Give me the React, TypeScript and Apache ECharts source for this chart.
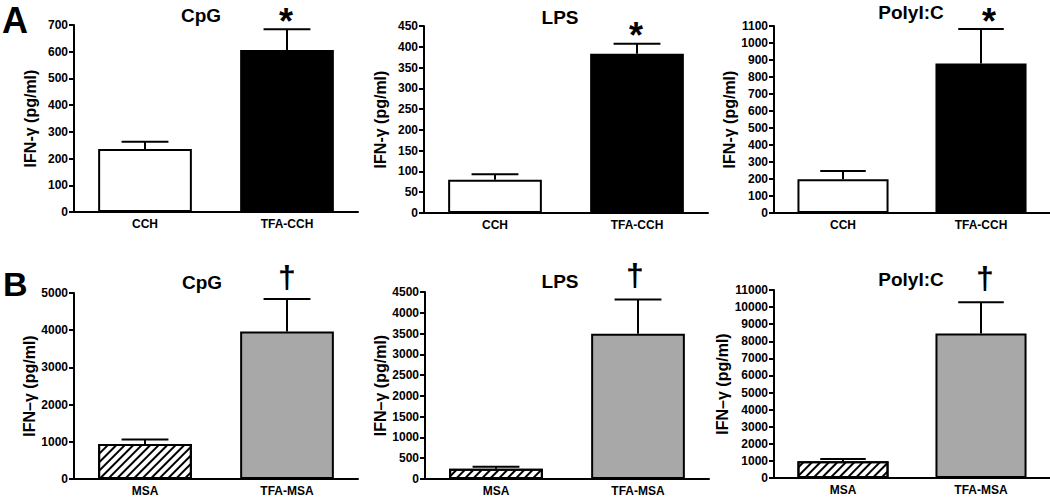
import React, { useEffect, useRef } from "react";
import * as echarts from "echarts";

// ---- data ----
const groupsA = ["CCH", "TFA-CCH"];
const groupsB = ["MSA", "TFA-MSA"];
const stimuli = ["CpG", "LPS", "PolyI:C"];

const meanA_CpG = [236, 606];
const semA_CpG = [27, 78];
const meanA_LPS = [80, 383];
const semA_LPS = [13, 24];
const meanA_Poly = [198, 879];
const semA_Poly = [49, 203];

const meanB_CpG = [941, 3968];
const semB_CpG = [124, 871];
const meanB_LPS = [248, 3497];
const semB_LPS = [48, 825];
const meanB_Poly = [979, 8462];
const semB_Poly = [134, 1818];

const yMaxA = [700, 450, 1100];
const yStepA = [100, 50, 100];
const yMaxB = [5000, 4500, 11000];
const yStepB = [1000, 500, 1000];

const markA = "*";
const markB = "\u2020";
const yNameA = "IFN-\u03b3 (pg/ml)";
const yNameB = "IFN\u2013\u03b3 (pg/ml)";

// ---- layout ----
const FONT = "Liberation Sans, Arial, sans-serif";
const grids = [
  { left: 74, top: 25, width: 284, height: 187 },
  { left: 424, top: 26, width: 284, height: 187 },
  { left: 774, top: 26, width: 280, height: 187 },
  { left: 74, top: 293, width: 284, height: 186 },
  { left: 425, top: 292, width: 284, height: 187 },
  { left: 774, top: 290, width: 280, height: 188 },
];
const titlePos = [
  [201, 15], [560, 17], [911, 12],
  [202, 282], [560, 281], [911, 279],
];
const markPos = [
  [286, 21], [636, 35], [989, 21],
  [287, 277], [635, 275], [985, 278],
];

type Panel = {
  cats: string[];
  mean: number[];
  sem: number[];
  max: number;
  step: number;
  yName: string;
  colors: any[];
  mark: string;
};

const hatch = {
  symbol: "rect",
  symbolSize: 1,
  dashArrayX: [1, 0],
  dashArrayY: [1.6, 3.4],
  rotation: -Math.PI / 4,
  color: "#000",
};

const panels: Panel[] = [
  { cats: groupsA, mean: meanA_CpG, sem: semA_CpG, max: yMaxA[0], step: yStepA[0], yName: yNameA, colors: ["#fff", "#000"], mark: markA },
  { cats: groupsA, mean: meanA_LPS, sem: semA_LPS, max: yMaxA[1], step: yStepA[1], yName: yNameA, colors: ["#fff", "#000"], mark: markA },
  { cats: groupsA, mean: meanA_Poly, sem: semA_Poly, max: yMaxA[2], step: yStepA[2], yName: yNameA, colors: ["#fff", "#000"], mark: markA },
  { cats: groupsB, mean: meanB_CpG, sem: semB_CpG, max: yMaxB[0], step: yStepB[0], yName: yNameB, colors: ["hatch", "#a8a8a8"], mark: markB },
  { cats: groupsB, mean: meanB_LPS, sem: semB_LPS, max: yMaxB[1], step: yStepB[1], yName: yNameB, colors: ["hatch", "#a8a8a8"], mark: markB },
  { cats: groupsB, mean: meanB_Poly, sem: semB_Poly, max: yMaxB[2], step: yStepB[2], yName: yNameB, colors: ["hatch", "#a8a8a8"], mark: markB },
];

function buildOption() {
  const grid: any[] = [];
  const xAxis: any[] = [];
  const yAxis: any[] = [];
  const series: any[] = [];
  const graphic: any[] = [];

  panels.forEach((p, i) => {
    grid.push({ ...grids[i], containLabel: false });
    xAxis.push({
      type: "category",
      gridIndex: i,
      data: p.cats,
      axisLine: { lineStyle: { color: "#000", width: 2 } },
      axisTick: { alignWithLabel: true, length: 5, lineStyle: { color: "#000", width: 2 } },
      axisLabel: { color: "#000", fontFamily: FONT, fontWeight: "bold", fontSize: 12, margin: 6 },
    });
    yAxis.push({
      type: "value",
      gridIndex: i,
      min: 0,
      max: p.max,
      interval: p.step,
      splitLine: { show: false },
      axisLine: { show: true, lineStyle: { color: "#000", width: 2 } },
      axisTick: { show: true, length: 5, lineStyle: { color: "#000", width: 2 } },
      axisLabel: {
        color: "#000",
        fontFamily: FONT,
        fontWeight: "bold",
        fontSize: 12,
        margin: 6,
        formatter: (v: number) => String(v),
      },
      name: p.yName,
      nameLocation: "middle",
      nameGap: 36,
      nameTextStyle: { color: "#000", fontFamily: FONT, fontWeight: "bold", fontSize: 16 },
    });
    series.push({
      type: "bar",
      xAxisIndex: i,
      yAxisIndex: i,
      barWidth: "66%",
      data: p.mean.map((v, k) => {
        const c = p.colors[k];
        const itemStyle: any = { borderColor: "#000", borderWidth: 2 };
        if (c === "hatch") {
          itemStyle.color = "#fff";
          itemStyle.decal = hatch;
        } else {
          itemStyle.color = c;
        }
        return { value: v, itemStyle };
      }),
    });
    series.push({
      type: "custom",
      xAxisIndex: i,
      yAxisIndex: i,
      z: 5,
      encode: { x: 0, y: [1, 2] },
      data: p.mean.map((v, k) => [k, v, v + p.sem[k]]),
      renderItem: (params: any, api: any) => {
        const x = api.value(0);
        const p0 = api.coord([x, api.value(1)]);
        const p1 = api.coord([x, api.value(2)]);
        const half = (api.size([1, 0])[0] * 0.66) / 4;
        return {
          type: "group",
          children: [
            { type: "line", shape: { x1: p0[0], y1: p0[1], x2: p1[0], y2: p1[1] }, style: { stroke: "#000", lineWidth: 2 } },
            { type: "line", shape: { x1: p1[0] - half, y1: p1[1], x2: p1[0] + half, y2: p1[1] }, style: { stroke: "#000", lineWidth: 2 } },
          ],
        };
      },
    });
    graphic.push({
      type: "text",
      x: titlePos[i][0],
      y: titlePos[i][1],
      style: { text: stimuli[i % 3], fill: "#000", font: `bold 19px ${FONT}`, align: "center", verticalAlign: "middle" },
    });
    graphic.push({
      type: "text",
      x: markPos[i][0],
      y: markPos[i][1],
      style: {
        text: p.mark,
        fill: "#000",
        font: p.mark === "*" ? `bold 36px ${FONT}` : `bold 32px ${FONT}`,
        align: "center",
        verticalAlign: "middle",
      },
    });
  });

  graphic.push({ type: "text", x: 2, y: 20, style: { text: "A", fill: "#000", font: `bold 36px ${FONT}`, align: "left", verticalAlign: "middle" } });
  graphic.push({ type: "text", x: 3, y: 284, style: { text: "B", fill: "#000", font: `bold 34px ${FONT}`, align: "left", verticalAlign: "middle" } });

  return {
    animation: false,
    backgroundColor: "#fff",
    grid,
    xAxis,
    yAxis,
    series,
    graphic,
  };
}

export default function App() {
  const ref = useRef<HTMLDivElement>(null);
  useEffect(() => {
    document.body.style.margin = "0";
    const chart = echarts.init(ref.current!, null, { renderer: "svg" });
    chart.setOption(buildOption() as any);
    return () => chart.dispose();
  }, []);
  return <div ref={ref} style={{ width: 1050, height: 502 }} />;
}
